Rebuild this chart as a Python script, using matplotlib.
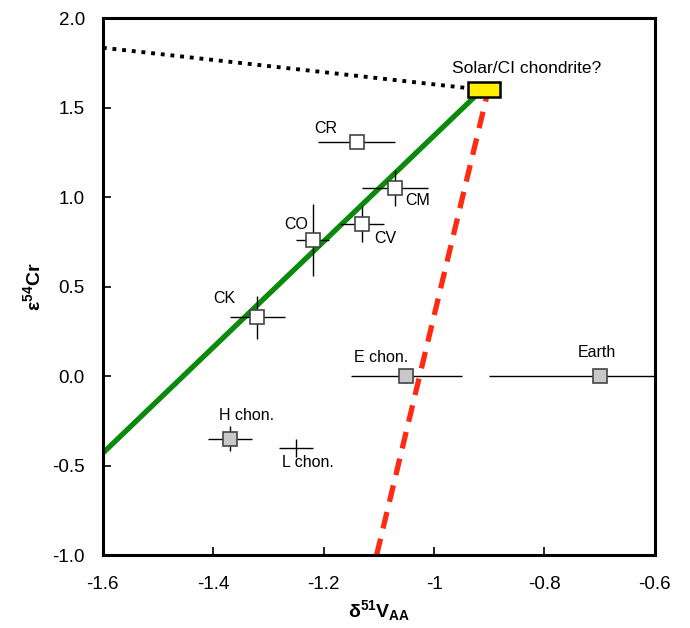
import matplotlib.pyplot as plt

plt.rcParams['font.family'] = ['Liberation Sans', 'DejaVu Sans']
plt.rcParams['mathtext.fontset'] = 'custom'
plt.rcParams['mathtext.rm'] = 'Liberation Sans'
plt.rcParams['mathtext.it'] = 'Liberation Sans:italic'
plt.rcParams['mathtext.bf'] = 'Liberation Sans:bold'

# Datos
names = ['CR', 'CM', 'CV', 'CO', 'CK', 'H chon.', 'L chon.', 'E chon.', 'Earth']
d51V = [-1.14, -1.07, -1.13, -1.22, -1.32, -1.37, -1.25, -1.05, -0.70]
e54Cr = [1.31, 1.05, 0.85, 0.76, 0.33, -0.35, -0.40, 0.00, 0.00]
xerr = [0.07, 0.06, 0.04, 0.03, 0.05, 0.04, 0.03, 0.10, 0.20]
yerr = [0.04, 0.10, 0.10, 0.20, 0.12, 0.07, 0.05, 0.04, 0.03]
face = ['white', 'white', 'white', 'white', 'white', '#c8c8c8', 'none', '#c8c8c8', '#c8c8c8']
label_x = [-1.196, -1.029, -1.089, -1.25, -1.379, -1.339, -1.229, -1.095, -0.705]
label_y = [1.385, 0.98, 0.77, 0.85, 0.436, -0.218, -0.48, 0.106, 0.134]

solar_x, solar_y = -0.91, 1.60
solar_w, solar_h = 0.058, 0.084

green_x = [-1.60, -0.92]
green_y = [-0.43, 1.58]
red_x = [-1.104, -0.904]
red_y = [-1.0, 1.57]
dot_x = [-1.60, -0.94]
dot_y = [1.835, 1.61]

xticks = [-1.6, -1.4, -1.2, -1.0, -0.8, -0.6]
xticklabels = ['-1.6', '-1.4', '-1.2', '-1', '-0.8', '-0.6']
yticks = [-1.0, -0.5, 0.0, 0.5, 1.0, 1.5, 2.0]
yticklabels = ['-1.0', '-0.5', '0.0', '0.5', '1.0', '1.5', '2.0']

fig = plt.figure(figsize=(6.9, 6.28), dpi=100)
ax = fig.add_axes([0.149, 0.116, 0.800, 0.855])

# Líneas de mezcla
ax.plot(dot_x, dot_y, color='black', linestyle=(0, (1, 1.5)), linewidth=2.8, zorder=2)
ax.plot(green_x, green_y, color='#0a8a0a', linewidth=3.8, zorder=2, solid_capstyle='butt')
ax.plot(red_x, red_y, color='#ff2a10', linewidth=3.8, linestyle=(0, (3.2, 2.0)), zorder=2)

# Puntos con barras de error
for i in range(len(names)):
    marker = 's' if face[i] != 'none' else 'None'
    ax.errorbar(d51V[i], e54Cr[i], xerr=xerr[i], yerr=yerr[i], fmt=marker,
                markersize=9.5, markerfacecolor=face[i], markeredgecolor='#444444',
                markeredgewidth=1.2, ecolor='black', elinewidth=1.0, capsize=0,
                zorder=4, clip_on=True)
    ax.text(label_x[i], label_y[i], names[i], fontsize=11.5, ha='center', va='center', zorder=5)

# Caja Solar/CI
ax.add_patch(plt.Rectangle((solar_x - solar_w / 2, solar_y - solar_h / 2), solar_w, solar_h,
                           facecolor='#ffee00', edgecolor='black', linewidth=1.8, zorder=6))
ax.text(-0.832, 1.72, 'Solar/CI chondrite?', fontsize=12.5, ha='center', va='center')

ax.set_xlim(-1.6, -0.6)
ax.set_ylim(-1.0, 2.0)
ax.set_xticks(xticks)
ax.set_xticklabels(xticklabels)
ax.set_yticks(yticks)
ax.set_yticklabels(yticklabels)
ax.tick_params(direction='in', length=6, width=1.2, labelsize=13.5)
ax.tick_params(axis='x', pad=15)
ax.tick_params(axis='y', pad=13)

for s in ax.spines.values():
    s.set_linewidth(2.2)

ax.set_xlabel(r'δ$^{\mathbf{51}}$V$_{\mathbf{AA}}$', fontsize=14, fontweight='bold', labelpad=4)
ax.set_ylabel(r'ε$^{\mathbf{54}}$Cr', fontsize=14, fontweight='bold', labelpad=6)

fig.savefig('out.png', dpi=100)
